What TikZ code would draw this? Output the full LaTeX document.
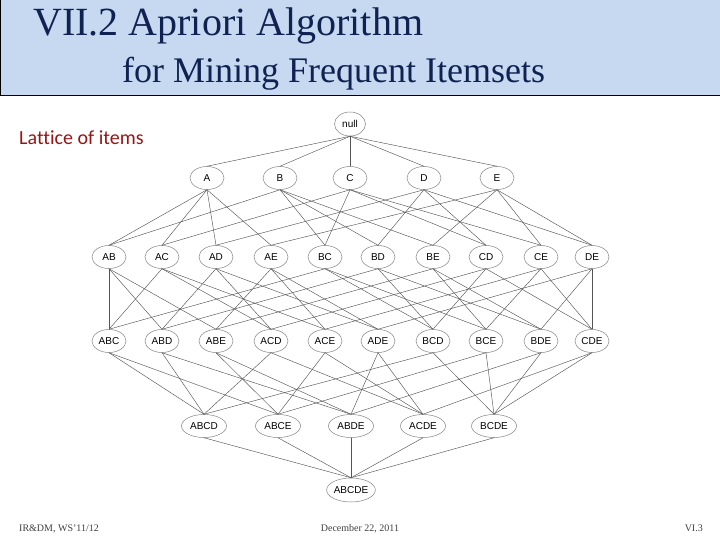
\documentclass[tikz,border=0pt]{standalone}
\usepackage{fontspec}
\setmainfont{Liberation Serif}
\newfontfamily\labelfont{Liberation Sans}
\newfontfamily\bodyfont[Ligatures=NoCommon]{Carlito}
\usetikzlibrary{shapes.geometric}
\definecolor{titlebg}{RGB}{198,217,241}
\definecolor{titleink}{RGB}{15,34,82}
\definecolor{redink}{RGB}{150,22,22}
\definecolor{nodeline}{RGB}{130,130,130}
\definecolor{edgeline}{RGB}{85,85,85}
\begin{document}
\begin{tikzpicture}[x=1pt, y=-1pt,
  item/.style={ellipse, draw=nodeline, line width=0.5pt, inner sep=0pt, minimum width=34pt, minimum height=23pt, font=\labelfont\fontsize{10}{12}\selectfont},
  wideitem/.style={item, minimum width=45pt},
  edge/.style={draw=edgeline, line width=0.45pt},
  foot/.style={font=\fontsize{10}{12}\selectfont, text=black!75, inner sep=0pt}
]
\useasboundingbox (0,0) rectangle (720,540);

% Title bar
\draw[fill=titlebg, line width=1pt] (0,0) rectangle (720,96);
\node[anchor=base west, inner sep=0pt, text=titleink, font=\fontsize{40}{44}\selectfont] (title) at (33,36) {VII.2 Apriori Algorithm};
\node[anchor=base west, inner sep=0pt, text=titleink, font=\fontsize{36}{40}\selectfont] (subtitle) at (122,83) {for Mining Frequent Itemsets};
\node[anchor=base west, inner sep=0pt, text=redink, font=\bodyfont\fontsize{20}{24}\selectfont] (caption) at (19,145) {Lattice of items};

% Level 0
\node[item, minimum width=31pt, minimum height=24pt] (null) at (350,124) {null};

% Level 1
\node[item] (A) at (207,178) {A};
\node[item] (B) at (280,178) {B};
\node[item] (C) at (350,178) {C};
\node[item] (D) at (424,178) {D};
\node[item] (E) at (497,178) {E};

% Level 2
\node[item] (AB) at (109,257) {AB};
\node[item] (AC) at (162,257) {AC};
\node[item] (AD) at (216,257) {AD};
\node[item] (AE) at (271,257) {AE};
\node[item] (BC) at (325,257) {BC};
\node[item] (BD) at (378,257) {BD};
\node[item] (BE) at (433,257) {BE};
\node[item] (CD) at (486,257) {CD};
\node[item] (CE) at (541,257) {CE};
\node[item] (DE) at (592,257) {DE};

% Level 3
\node[item] (ABC) at (109,341) {ABC};
\node[item] (ABD) at (162,341) {ABD};
\node[item] (ABE) at (216,341) {ABE};
\node[item] (ACD) at (271,341) {ACD};
\node[item] (ACE) at (325,341) {ACE};
\node[item] (ADE) at (378,341) {ADE};
\node[item] (BCD) at (433,341) {BCD};
\node[item] (BCE) at (486,341) {BCE};
\node[item] (BDE) at (541,341) {BDE};
\node[item] (CDE) at (592,341) {CDE};

% Level 4
\node[wideitem] (ABCD) at (204,426) {ABCD};
\node[wideitem] (ABCE) at (278,426) {ABCE};
\node[wideitem] (ABDE) at (351,426) {ABDE};
\node[wideitem] (ACDE) at (423,426) {ACDE};
\node[wideitem] (BCDE) at (494,426) {BCDE};

% Level 5
\node[item, minimum width=48pt, minimum height=24pt] (ABCDE) at (351,490) {ABCDE};

% Edges
\foreach \a in {A,B,C,D,E}
  \draw[edge] (null.south) -- (\a.north);
\foreach \a/\b in {A/B,A/C,A/D,A/E,B/C,B/D,B/E,C/D,C/E,D/E} {
  \draw[edge] (\a.south) -- (\a\b.north);
  \draw[edge] (\b.south) -- (\a\b.north);
}
\foreach \a/\b/\c in {A/B/C,A/B/D,A/B/E,A/C/D,A/C/E,A/D/E,B/C/D,B/C/E,B/D/E,C/D/E} {
  \draw[edge] (\a\b.south) -- (\a\b\c.north);
  \draw[edge] (\a\c.south) -- (\a\b\c.north);
  \draw[edge] (\b\c.south) -- (\a\b\c.north);
}
\foreach \a/\b/\c/\d in {A/B/C/D,A/B/C/E,A/B/D/E,A/C/D/E,B/C/D/E} {
  \draw[edge] (\a\b\c.south) -- (\a\b\c\d.north);
  \draw[edge] (\a\b\d.south) -- (\a\b\c\d.north);
  \draw[edge] (\a\c\d.south) -- (\a\b\c\d.north);
  \draw[edge] (\b\c\d.south) -- (\a\b\c\d.north);
}
\foreach \s in {ABCD,ABCE,ABDE,ACDE,BCDE}
  \draw[edge] (\s.south) -- (ABCDE.north);

% Footer
\node[foot, anchor=base west] (course) at (19,531) {IR\&DM, WS'11/12};
\node[foot, anchor=base] (date) at (360,531) {December 22, 2011};
\node[foot, anchor=base east] (page) at (703,531) {VI.3};
\end{tikzpicture}
\end{document}
